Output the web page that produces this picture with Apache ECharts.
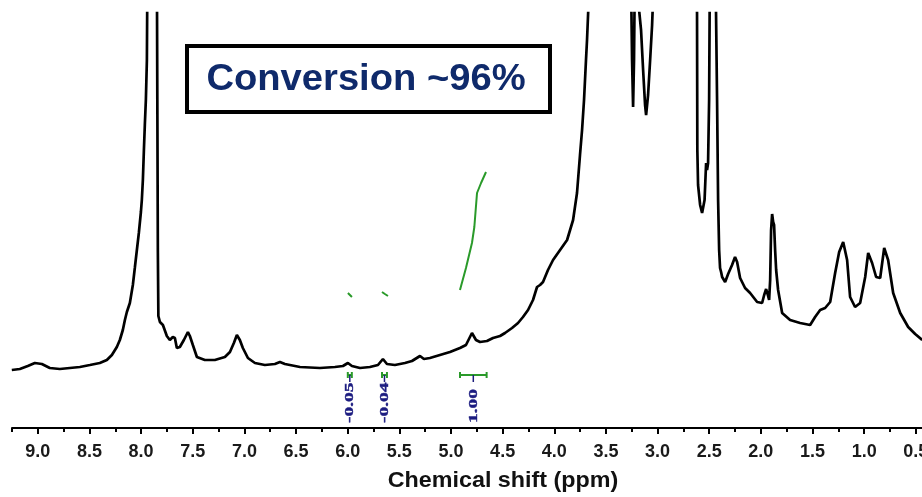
<!DOCTYPE html>
<html>
<head>
<meta charset="utf-8">
<script src="https://cdn.jsdelivr.net/npm/echarts@6/dist/echarts.min.js"></script>
<style>html,body{margin:0;padding:0;background:#fff}#c{width:922px;height:497px}</style>
</head>
<body>
<div id="c"></div>
<script>
// Chemical shift (ppm) of each sampled spectrum point
const shiftPpm = [
 9.252,9.174,9.097,9.029,8.961,8.884,8.787,8.690,8.593,8.496,8.400,8.332,8.283,8.235,8.206,8.177,8.157,8.138,8.109,8.080,
 8.061,8.041,8.022,8.002,7.993,7.983,7.973,7.964,7.954,7.944,7.935,7.915,7.896,7.877,7.857,7.848,7.843,7.838,7.833,7.818,
 7.789,7.751,7.722,7.693,7.673,7.654,7.625,7.586,7.547,7.528,7.499,7.460,7.383,7.286,7.189,7.140,7.102,7.073,7.044,7.015,
 6.966,6.898,6.802,6.705,6.656,6.608,6.462,6.269,6.124,6.046,5.998,5.959,5.881,5.785,5.707,5.659,5.620,5.543,5.446,5.378,
 5.300,5.262,5.204,5.107,5.010,4.913,4.855,4.797,4.758,4.719,4.652,4.593,4.525,4.477,4.409,4.351,4.303,4.254,4.206,4.167,
 4.138,4.109,4.061,4.012,3.944,3.876,3.818,3.780,3.751,3.731,3.712,3.693,3.683,3.673,3.605,3.460,3.315,3.267,3.247,3.237,
 3.228,3.218,3.199,3.179,3.160,3.140,3.121,3.111,3.092,3.072,3.053,3.044,2.976,2.830,2.685,2.627,2.618,2.615,2.608,2.588,
 2.569,2.559,2.545,2.535,2.530,2.521,2.511,2.501,2.496,2.472,2.434,2.424,2.414,2.404,2.395,2.385,2.375,2.346,2.317,2.279,
 2.250,2.230,2.201,2.153,2.104,2.036,1.988,1.968,1.949,1.930,1.920,1.910,1.901,1.891,1.881,1.872,1.862,1.852,1.833,1.794,
 1.717,1.620,1.523,1.475,1.426,1.378,1.329,1.281,1.242,1.203,1.165,1.136,1.088,1.039,0.990,0.961,0.923,0.884,0.845,0.806,
 0.768,0.719,0.651,0.574,0.506,0.438
];
// Intensity (arbitrary units) at each point
const intensity = [
 58,59,62,65,64,60,59,60,61,63,65,68,73,81,88,98,108,116,125,143,
 160,178,195,216,228,248,278,303,328,368,528,1228,1628,1228,728,478,328,178,112,106,
 103,92,88,91,90,80,81,88,96,92,83,71,68,68,71,76,85,93,88,80,
 70,65,63,64,66,64,61,60,61,62,65,62,60,61,63,69,64,63,65,67,
 72,69,70,73,76,80,83,95,88,86,87,90,92,95,100,105,111,118,128,141,
 143,146,158,168,178,188,208,235,273,298,328,368,388,413,578,1028,728,528,368,321,
 368,478,478,418,398,358,323,313,333,368,403,428,628,828,628,458,415,278,243,223,
 215,214,228,253,265,258,265,328,415,628,415,328,228,178,160,156,151,146,154,163,
 171,166,150,140,135,126,125,133,139,132,128,148,198,214,206,203,178,158,138,115,
 108,105,103,111,118,120,126,155,176,186,168,131,121,125,151,175,165,151,150,180,
 168,135,115,101,94,88
];
// Integral traces (green), '-' separates the three traces
const integralPpm = [5.998,5.979,5.959,'-',5.668,5.640,5.610,'-',4.913,4.855,4.797,4.774,4.748,4.709,4.661];
const integralVal = [135,133,131,'-',136,134,132,'-',138,160,185,201,235,245,256];
// Integration regions and their values
const intFrom = [5.999, 5.668, 4.913];
const intTo = [5.960, 5.620, 4.655];
const intLabels = ['-0.05', '-0.04', '1.00'];
// Axis ticks
const majorTicks = [0.5,1.0,1.5,2.0,2.5,3.0,3.5,4.0,4.5,5.0,5.5,6.0,6.5,7.0,7.5,8.0,8.5,9.0];
const minorTicks = [0.75,1.25,1.75,2.25,2.75,3.25,3.75,4.25,4.75,5.25,5.75,6.25,6.75,7.25,7.75,8.25,8.75,9.25];
const axisTitle = 'Chemical shift (ppm)';
const boxText = 'Conversion ~96%';

const spectrum = shiftPpm.map((p, i) => [p, intensity[i]]);
const integral = integralPpm.map((p, i) => p === '-' ? '-' : [p, integralVal[i]]);
const regions = intFrom.map((f, i) => [f, intTo[i]]);

const chart = echarts.init(document.getElementById('c'), null, {renderer: 'canvas'});
const XMIN = 0.44, XMAX = 9.25;
const axisBase = {
  type: 'value', min: XMIN, max: XMAX, inverse: true, position: 'bottom',
  splitLine: {show: false}
};
chart.setOption({
  animation: false,
  backgroundColor: '#fff',
  grid: {left: 12, right: 0, top: 13, bottom: 69, containLabel: false, outerBoundsMode: 'none'},
  xAxis: [
    Object.assign({}, axisBase, {
      axisLine: {show: true, lineStyle: {color: '#000', width: 2}},
      axisTick: {show: true, customValues: majorTicks, length: 6, lineStyle: {color: '#000', width: 2}},
      axisLabel: {show: true, customValues: majorTicks, margin: 15, color: '#1a1a1a',
        fontFamily: 'Liberation Sans, Arial, sans-serif', fontWeight: 'bold', fontSize: 18,
        hideOverlap: false, formatter: v => v.toFixed(1)}
    }),
    Object.assign({}, axisBase, {
      axisLine: {show: false},
      axisTick: {show: true, customValues: minorTicks, length: 4, lineStyle: {color: '#000', width: 2}},
      axisLabel: {show: false}
    })
  ],
  yAxis: {type: 'value', min: 0, max: 415, show: false},
  series: [
    {
      type: 'line', data: spectrum, xAxisIndex: 0, showSymbol: false, clip: true,
      lineStyle: {color: '#000', width: 2.7}, z: 3
    },
    {
      type: 'line', data: integral, xAxisIndex: 0, showSymbol: false, connectNulls: false,
      lineStyle: {color: '#2a9a2a', width: 2}, z: 2
    },
    {
      type: 'custom', xAxisIndex: 0, data: regions, clip: false, z: 4,
      renderItem: function (params, api) {
        const cs = params.coordSys;
        const xa = api.coord([api.value(0), 0])[0];
        const xb = api.coord([api.value(1), 0])[0];
        const xc = (xa + xb) / 2;
        const base = cs.y + cs.height;
        const yb = base - 53;
        const green = '#2a9a2a';
        const ls = {stroke: green, lineWidth: 2};
        return {
          type: 'group',
          children: [
            {type: 'line', shape: {x1: xa, y1: yb, x2: xb, y2: yb}, style: ls},
            {type: 'line', shape: {x1: xa, y1: yb - 3, x2: xa, y2: yb + 3}, style: ls},
            {type: 'line', shape: {x1: xb, y1: yb - 3, x2: xb, y2: yb + 3}, style: ls},
            {type: 'line', shape: {x1: xc, y1: yb, x2: xc, y2: yb + 7}, style: {stroke: '#1c1c7c', lineWidth: 1.5}},
            {type: 'text', x: xc, y: base - 5, rotation: Math.PI / 2, scaleX: 1.5,
              style: {text: intLabels[params.dataIndex], fill: '#1c1c80',
                font: 'bold 13px "Liberation Serif", "Times New Roman", serif',
                textAlign: 'left', textVerticalAlign: 'middle',
                stroke: '#1c1c80', lineWidth: 0.4}}
          ]
        };
      }
    }
  ],
  graphic: [
    {type: 'rect', shape: {x: 187, y: 46, width: 363, height: 66}, style: {fill: '#fff', stroke: '#000', lineWidth: 4}, z: 10},
    {type: 'text', x: 366, y: 80, scaleX: 1.06, z: 11,
      style: {text: boxText, fill: '#0f2a6b', font: 'bold 36px "Liberation Sans", Arial, sans-serif',
        textAlign: 'center', textVerticalAlign: 'middle'}},
    {type: 'text', x: 503, y: 481, scaleX: 1.06, z: 11,
      style: {text: axisTitle, fill: '#111', font: 'bold 22px "Liberation Sans", Arial, sans-serif',
        textAlign: 'center', textVerticalAlign: 'middle'}}
  ]
});
</script>
</body>
</html>
